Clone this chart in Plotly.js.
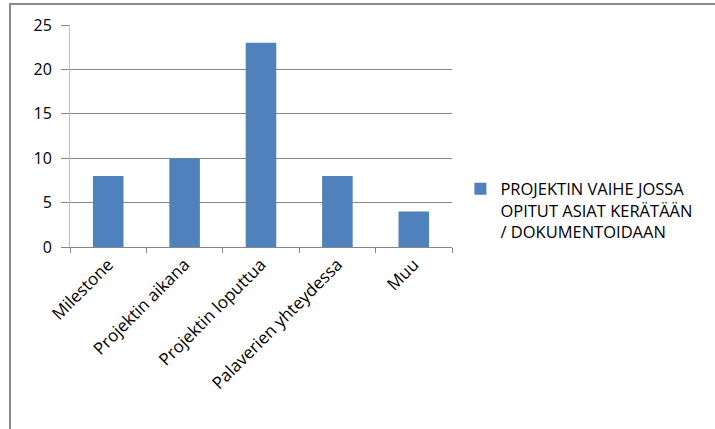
<!DOCTYPE html>
<html>
<head>
<meta charset="utf-8">
<script src="https://cdn.plot.ly/plotly-3.0.1.min.js"></script>
<style>
  html, body { margin: 0; padding: 0; background: #fff; }
  #wrap { position: relative; width: 715px; height: 429px; overflow: hidden; }
  #chart { position: absolute; left: 0; top: 0; width: 715px; height: 429px; }
  #frame { position: absolute; left: 9px; top: 3px; right: -10px; bottom: -10px;
           border-left: 2px solid #8a8a8a; border-top: 2px solid #8a8a8a; pointer-events: none; }
</style>
</head>
<body>
<div id="wrap">
  <div id="chart"></div>
  <div id="frame"></div>
</div>
<script>
// Vaiheet, joissa opitut asiat kerätään
const categories = ["Milestone", "Projektin aikana", "Projektin loputtua", "Palaverien yhteydessa", "Muu"];
const counts = [8, 10, 23, 8, 4];
const seriesName = "PROJEKTIN VAIHE JOSSA<br>OPITUT ASIAT KERÄTÄÄN<br>/ DOKUMENTOIDAAN";
const yTicks = [0, 5, 10, 15, 20, 25];

const font = "Open Sans, Liberation Sans, sans-serif";

const trace = {
  type: "bar",
  x: categories,
  y: counts,
  name: seriesName,
  marker: { color: "#4F81BD", line: { width: 0 } },
  showlegend: true,
  hoverinfo: "x+y"
};

const layout = {
  width: 715,
  height: 429,
  margin: { l: 70, r: 263, t: 25, b: 182, autoexpand: false },
  paper_bgcolor: "#ffffff",
  plot_bgcolor: "#ffffff",
  bargap: 0.6,
  font: { family: font, size: 14, color: "#000" },
  xaxis: {
    type: "category",
    showline: true,
    linecolor: "#868686",
    linewidth: 1,
    ticks: "outside",
    tickson: "boundaries",
    ticklen: 5,
    tickcolor: "#868686",
    tickangle: -45,
    tickfont: { family: font, size: 17, color: "#000" },
    showgrid: false,
    zeroline: false,
    fixedrange: true
  },
  yaxis: {
    range: [0, 25],
    tickvals: yTicks,
    ticktext: yTicks.map(String),
    showline: true,
    linecolor: "#c0c0c0",
    linewidth: 1,
    ticks: "outside",
    ticklen: 8,
    tickcolor: "#868686",
    showgrid: true,
    gridcolor: "#868686",
    gridwidth: 1,
    zeroline: false,
    ticklabelstandoff: 6,
    tickfont: { family: font, size: 16, color: "#000" },
    fixedrange: true
  },
  showlegend: true,
  legend: {
    x: 1.022,
    xanchor: "left",
    y: 0.34,
    yanchor: "top",
    valign: "top",
    font: { family: font, size: 16.5, color: "#000" },
    itemwidth: 30,
    bgcolor: "rgba(0,0,0,0)"
  }
};

Plotly.newPlot("chart", [trace], layout, { displayModeBar: false, staticPlot: true });
</script>
</body>
</html>
